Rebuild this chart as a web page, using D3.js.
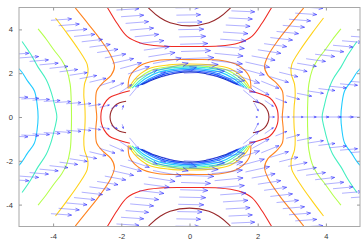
<!DOCTYPE html>
<meta charset="utf-8">
<style>
    body { margin: 0; background: #fff; }
    .axis text { font-family: "Liberation Sans", Arial, sans-serif; font-size: 7.5px; fill: #333; }
    .axis path { display: none; }
    .axis line { stroke: #999; }
    .contour { fill: none; stroke-width: 1.1px; }
    .arrow { stroke: #4444ff; stroke-width: 1px; stroke-opacity: 0.42; fill: none; }
    .head { stroke: #2626ff; stroke-width: 1px; stroke-opacity: 0.6; fill: none; }
</style>
<body>
<svg id="chart" width="363" height="248"></svg>
</body>
<script src="https://d3js.org/d3.v7.min.js"></script>
<script>

    // ticks
    var xTicks = [-4, -2, 0, 2, 4];
    var yTicks = [-4, -2, 0, 2, 4];

    // quiver grid (polar), flow past a cylinder
    var radii = [2.0, 2.333, 2.667, 3.0, 3.333, 3.667, 4.0, 4.333, 4.667, 5.0, 5.333, 5.667, 6.0];
    var anglesDeg = [0, 18.95, 37.89, 56.84, 75.79, 94.74, 113.68, 132.63, 151.58, 170.53,
        189.47, 208.42, 227.37, 246.32, 265.26, 284.21, 303.16, 322.11, 341.05];
    var freeStream = 1.0;
    var cylinderRadius = 2.0;

    // contour levels, low -> high
    var levelNames = ["l0", "l1", "l2", "l3", "l4", "l5", "l6", "l7", "l8", "l9"];

    // contour traces, upper-left quadrant only
    // "side" curves end on y = 0, "top" curves end on x = 0
    var sideCurves = [
        {level: 3, pts: [[-5.5, 2.6], [-5, 2.2], [-4.75, 1.65], [-4.55, 1.2], [-4.47, 0.6], [-4.44, 0]]},
        {level: 4, pts: [[-4.91, 3.45], [-4.65, 2.85], [-4.45, 2.3], [-4.2, 1.7], [-4.05, 1.1], [-3.95, 0.5], [-3.89, 0]]},
        {level: 5, pts: [[-4.44, 4.02], [-4.2, 3.55], [-3.98, 3.07], [-3.75, 2.6], [-3.6, 2.15], [-3.5, 1.5], [-3.47, 0.8], [-3.46, 0]]},
        {level: 6, pts: [[-3.93, 4.52], [-3.6, 3.84], [-3.25, 3.07], [-3.0, 2.4], [-2.98, 2.0], [-3.08, 1.5], [-3.1, 1.0], [-3.07, 0.5], [-3.06, 0]]},
        {level: 7, pts: [[-3.35, 4.98], [-2.95, 4.21], [-2.61, 3.53], [-2.32, 2.84], [-2.2, 2.3], [-2.3, 1.9], [-2.55, 1.55], [-2.72, 1.2], [-2.75, 0.6], [-2.72, 0]]},
        {level: 8, pts: [[-1.75, 1.2], [-1.95, 1.12], [-2.15, 1.02], [-2.35, 0.88], [-2.5, 0.6], [-2.58, 0.3], [-2.6, 0]]},
        {level: 9, pts: [[-1.86, 0.72], [-2.05, 0.65], [-2.2, 0.5], [-2.3, 0.25], [-2.33, 0]]}
    ];
    var topCurves = [
        {level: 9, pts: [[-1.45, 5.45], [-1.15, 4.9], [-0.86, 4.53], [-0.57, 4.3], [0, 4.16]]},
        {level: 8, pts: [[-2.6, 5.42], [-2.41, 5.0], [-2.13, 4.29], [-1.83, 3.68], [-1.44, 3.38], [-0.86, 3.24], [0, 3.22]]},
        {level: 7, pts: [[-1.8, 1.3], [-1.75, 1.85], [-1.44, 2.35], [-0.95, 2.58], [0, 2.62]]},
        {level: 6, pts: [[-1.78, 1.3], [-1.62, 1.7], [-1.2, 2.2], [-0.6, 2.38], [0, 2.42]]},
        {level: 5, pts: [[-1.74, 1.3], [-1.5, 1.75], [-1.1, 2.15], [-0.5, 2.31], [0, 2.35]]},
        {level: 4, pts: [[-1.68, 1.32], [-1.4, 1.74], [-1.0, 2.1], [-0.5, 2.25], [0, 2.29]]},
        {level: 3, pts: [[-1.6, 1.36], [-1.3, 1.75], [-0.9, 2.05], [-0.4, 2.19], [0, 2.23]]},
        {level: 2, pts: [[-1.5, 1.42], [-1.2, 1.72], [-0.8, 2.0], [-0.4, 2.13], [0, 2.17]]},
        {level: 1, pts: [[-1.44, 1.46], [-1.1, 1.73], [-0.7, 1.97], [-0.3, 2.08], [0, 2.11]]},
        {level: 0, pts: [[-1.4, 1.48], [-1.0, 1.75], [-0.6, 1.94], [-0.2, 2.04], [0, 2.06]]}
    ];

    var levelColors = ["#1030c0", "#1a55ff", "#2a95ff", "#22ccff", "#45efc0",
        "#b4ff4c", "#ffd21a", "#ff8420", "#ef2a22", "#98282a"];

    var svg = d3.select("#chart");
    var margin = {left: 19, right: 3, top: 7.5, bottom: 21.5};
    var width = +svg.attr("width");
    var height = +svg.attr("height");

    var x = d3.scaleLinear().domain([-5, 5]).range([margin.left, width - margin.right]);
    var y = d3.scaleLinear().domain([-5, 5]).range([height - margin.bottom, margin.top]);
    var color = d3.scaleOrdinal().domain(d3.range(levelNames.length)).range(levelColors);

    svg.append("rect").attr("width", width).attr("height", height).attr("fill", "#fff");

    svg.append("clipPath").attr("id", "plot-clip")
        .append("rect")
        .attr("x", x(-5)).attr("y", y(5))
        .attr("width", x(5) - x(-5)).attr("height", y(-5) - y(5));

    var plot = svg.append("g").attr("clip-path", "url(#plot-clip)");

    // contours: mirror the traced quadrant into the full curve
    var line = d3.line()
        .x(function (d) { return x(d[0]); })
        .y(function (d) { return y(d[1]); })
        .curve(d3.curveCatmullRom.alpha(0.5));

    function joinMirror(pts, flipX) {
        var back = pts.slice(0, -1).reverse().map(function (p) {
            return flipX ? [-p[0], p[1]] : [p[0], -p[1]];
        });
        return pts.concat(back);
    }

    var contourPaths = [];
    sideCurves.forEach(function (c) {
        var full = joinMirror(c.pts, false);
        contourPaths.push({level: c.level, pts: full});
        contourPaths.push({level: c.level, pts: full.map(function (p) { return [-p[0], p[1]]; })});
    });
    topCurves.forEach(function (c) {
        var full = joinMirror(c.pts, true);
        contourPaths.push({level: c.level, pts: full});
        contourPaths.push({level: c.level, pts: full.map(function (p) { return [p[0], -p[1]]; })});
    });

    plot.append("g").selectAll("path")
        .data(contourPaths)
        .enter().append("path")
        .attr("class", "contour")
        .attr("stroke", function (d) { return color(d.level); })
        .attr("d", function (d) { return line(d.pts); });

    // quiver
    var arrowScale = 0.6;
    var arrows = [];
    radii.forEach(function (r) {
        anglesDeg.forEach(function (deg) {
            var t = deg * Math.PI / 180;
            var k = cylinderRadius * cylinderRadius / (r * r);
            var u = freeStream * (1 - k * Math.cos(2 * t));
            var v = -freeStream * k * Math.sin(2 * t);
            arrows.push({x0: r * Math.cos(t), y0: r * Math.sin(t), u: u, v: v});
        });
    });

    var quiver = plot.append("g");
    arrows.forEach(function (a) {
        var sx = x(a.x0), sy = y(a.y0);
        var ex = x(a.x0 + arrowScale * a.u), ey = y(a.y0 + arrowScale * a.v);
        quiver.append("line").attr("class", "arrow")
            .attr("x1", sx).attr("y1", sy).attr("x2", ex).attr("y2", ey);
        var ang = Math.atan2(ey - sy, ex - sx);
        var len = Math.hypot(ex - sx, ey - sy);
        var hl = Math.max(2, len * 0.2);
        var p1 = [ex - hl * Math.cos(ang - 0.35), ey - hl * Math.sin(ang - 0.35)];
        var p2 = [ex - hl * Math.cos(ang + 0.35), ey - hl * Math.sin(ang + 0.35)];
        quiver.append("path").attr("class", "head")
            .attr("d", "M" + p1 + "L" + ex + "," + ey + "L" + p2);
    });

    // frame and ticks (inside, all four sides)
    svg.append("rect")
        .attr("x", x(-5)).attr("y", y(5))
        .attr("width", x(5) - x(-5)).attr("height", y(-5) - y(5))
        .attr("fill", "none").attr("stroke", "#a8a8a8").attr("stroke-width", 1);

    var fmt = function (d) { return String(d); };
    svg.append("g").attr("class", "axis")
        .attr("transform", "translate(0," + y(-5) + ")")
        .call(d3.axisBottom(x).tickValues(xTicks).tickSizeInner(-3).tickSizeOuter(0).tickPadding(7).tickFormat(fmt));
    svg.append("g").attr("class", "axis")
        .attr("transform", "translate(0," + y(5) + ")")
        .call(d3.axisTop(x).tickValues(xTicks).tickSizeInner(-3).tickSizeOuter(0).tickFormat(""));
    svg.append("g").attr("class", "axis")
        .attr("transform", "translate(" + x(-5) + ",0)")
        .call(d3.axisLeft(y).tickValues(yTicks).tickSizeInner(-3).tickSizeOuter(0).tickPadding(6).tickFormat(fmt));
    svg.append("g").attr("class", "axis")
        .attr("transform", "translate(" + x(5) + ",0)")
        .call(d3.axisRight(y).tickValues(yTicks).tickSizeInner(-3).tickSizeOuter(0).tickFormat(""));

</script>
